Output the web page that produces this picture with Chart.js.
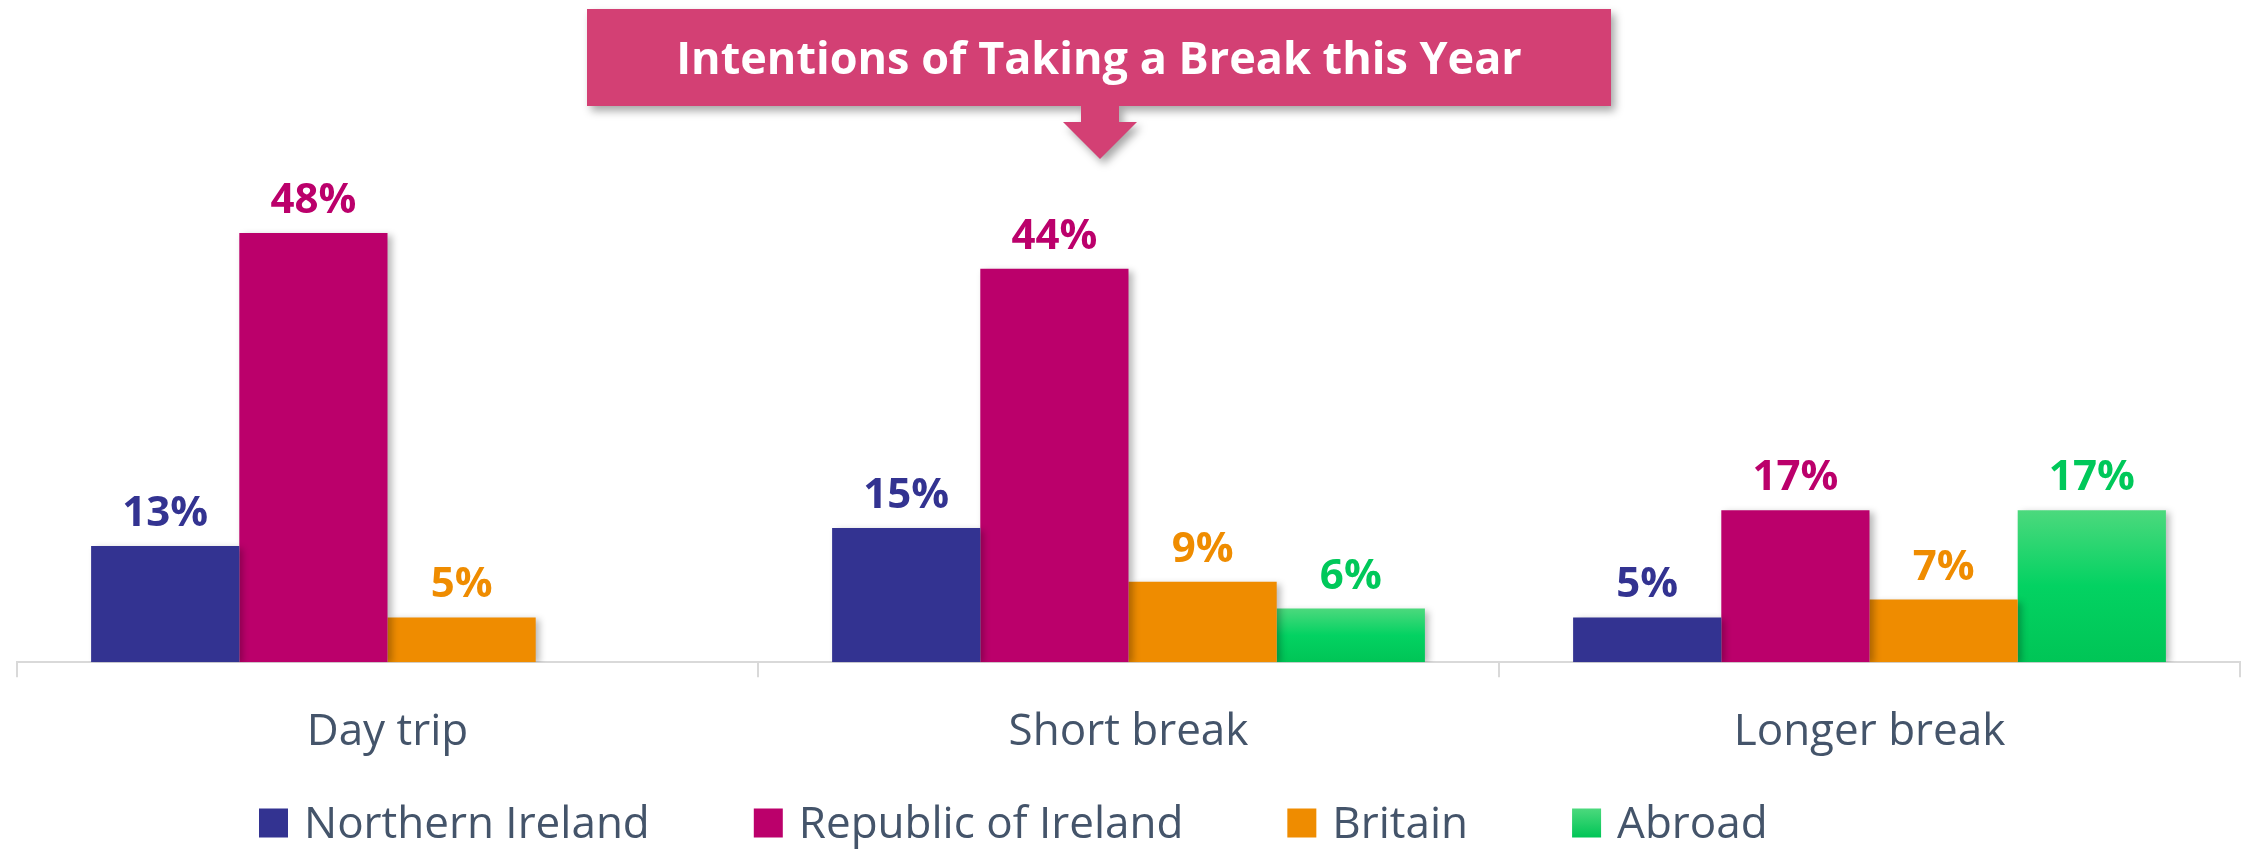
<!DOCTYPE html>
<html>
<head>
<meta charset="utf-8">
<title>Intentions of Taking a Break this Year</title>
<script src="https://cdn.jsdelivr.net/npm/chart.js@4.4.1/dist/chart.umd.min.js"></script>
<style>
  html, body { margin: 0; padding: 0; background: #ffffff; }
  canvas { display: block; }
</style>
</head>
<body>
<canvas id="myChart" width="2252" height="849"></canvas>
<script>
// The data
var title = 'Intentions of Taking a Break this Year';
var categories = ['Day trip', 'Short break', 'Longer break'];
var seriesNames = ['Northern Ireland', 'Republic of Ireland', 'Britain', 'Abroad'];
var northernIreland = [13, 15, 5];
var republicOfIreland = [48, 44, 17];
var britain = [5, 9, 7];
var abroad = [null, 6, 17];

var fontFamily = '"Open Sans", "Noto Sans", sans-serif';
var textColor = '#44546a';
var colors = ['#333391', '#bb006b', '#ef8c00', '#00c85a'];

// green bars get a light-to-dark gradient, one per bar
function abroadFill(context) {
  var chart = context.chart;
  if (!chart.chartArea || context.raw == null) {
    return colors[3];
  }
  var y = chart.scales.y;
  var top = y.getPixelForValue(context.raw);
  var bottom = y.getPixelForValue(0);
  var g = chart.ctx.createLinearGradient(0, top, 0, bottom);
  g.addColorStop(0, '#4cd97d');
  g.addColorStop(0.5, '#03d262');
  g.addColorStop(1, '#00c556');
  return g;
}

// soft shadow behind the bars
var barShadow = {
  id: 'barShadow',
  beforeDatasetsDraw: function(chart) {
    var ctx = chart.ctx;
    ctx.save();
    ctx.shadowColor = 'rgba(0, 0, 0, 0.28)';
    ctx.shadowBlur = 7;
    ctx.shadowOffsetX = 4;
    ctx.shadowOffsetY = 2;
  },
  afterDatasetsDraw: function(chart) {
    chart.ctx.restore();
  }
};

// value labels above each bar
var valueLabels = {
  id: 'valueLabels',
  afterDatasetsDraw: function(chart) {
    var ctx = chart.ctx;
    ctx.save();
    ctx.font = 'bold 42px ' + fontFamily;
    ctx.textAlign = 'center';
    ctx.textBaseline = 'alphabetic';
    chart.data.datasets.forEach(function(ds, i) {
      var meta = chart.getDatasetMeta(i);
      meta.data.forEach(function(bar, j) {
        if (ds.data[j] == null) return;
        ctx.fillStyle = colors[i];
        ctx.fillText(ds.data[j] + '%', bar.x, bar.y - 20);
      });
    });
    ctx.restore();
  }
};

// pink title banner with the arrow pointing down
var banner = {
  id: 'banner',
  afterDraw: function(chart) {
    var ctx = chart.ctx;
    ctx.save();
    ctx.shadowColor = 'rgba(0, 0, 0, 0.35)';
    ctx.shadowBlur = 8;
    ctx.shadowOffsetX = 4;
    ctx.shadowOffsetY = 5;
    ctx.fillStyle = '#d34074';
    ctx.beginPath();
    ctx.moveTo(587, 9);
    ctx.lineTo(1611, 9);
    ctx.lineTo(1611, 106);
    ctx.lineTo(1119, 106);
    ctx.lineTo(1119, 122);
    ctx.lineTo(1137, 122);
    ctx.lineTo(1100, 159);
    ctx.lineTo(1063, 122);
    ctx.lineTo(1081, 122);
    ctx.lineTo(1081, 106);
    ctx.lineTo(587, 106);
    ctx.closePath();
    ctx.fill();
    ctx.restore();

    ctx.save();
    ctx.fillStyle = '#ffffff';
    ctx.font = 'bold 45px ' + fontFamily;
    ctx.textAlign = 'center';
    ctx.textBaseline = 'alphabetic';
    ctx.fillText(title, 1099, 74);
    ctx.restore();
  }
};

// legend row along the bottom
var legendRow = {
  id: 'legendRow',
  afterDraw: function(chart) {
    var ctx = chart.ctx;
    var x = 259;
    var yMid = 823;
    var box = 29;
    ctx.save();
    ctx.font = '44px ' + fontFamily;
    ctx.textBaseline = 'middle';
    ctx.textAlign = 'left';
    chart.data.datasets.forEach(function(ds, i) {
      if (i === 3) {
        var g = ctx.createLinearGradient(0, yMid - box / 2, 0, yMid + box / 2);
        g.addColorStop(0, '#4cd97d');
        g.addColorStop(1, '#00c556');
        ctx.fillStyle = g;
      } else {
        ctx.fillStyle = colors[i];
      }
      ctx.fillRect(x, yMid - box / 2, box, box);
      ctx.fillStyle = textColor;
      ctx.fillText(ds.label, x + box + 16, yMid + 2);
      x += box + 16 + ctx.measureText(ds.label).width + 104;
    });
    ctx.restore();
  }
};

var ctx = document.getElementById('myChart');

var data = {
  labels: categories,
  datasets: [
    { label: seriesNames[0], data: northernIreland, backgroundColor: colors[0] },
    { label: seriesNames[1], data: republicOfIreland, backgroundColor: colors[1] },
    { label: seriesNames[2], data: britain, backgroundColor: colors[2] },
    { label: seriesNames[3], data: abroad, backgroundColor: abroadFill }
  ]
};

data.datasets.forEach(function(ds) {
  ds.categoryPercentage = 0.8;
  ds.barPercentage = 1.0;
  ds.borderWidth = 0;
});

var myBarChart = new Chart(ctx, {
  type: 'bar',
  data: data,
  options: {
    responsive: false,
    animation: false,
    layout: { padding: { top: 215, bottom: 61, left: 17, right: 12 } },
    scales: {
      x: {
        grid: {
          offset: true,
          drawOnChartArea: false,
          drawTicks: true,
          tickLength: 15,
          color: '#d9d9d9',
          lineWidth: 2
        },
        border: { color: '#d9d9d9', width: 2 },
        ticks: {
          padding: 29,
          color: textColor,
          font: { family: fontFamily, size: 44 }
        }
      },
      y: { display: false, min: 0, max: 50 }
    },
    plugins: {
      legend: { display: false },
      tooltip: { enabled: false }
    }
  },
  plugins: [barShadow, valueLabels, banner, legendRow]
});
</script>
</body>
</html>
